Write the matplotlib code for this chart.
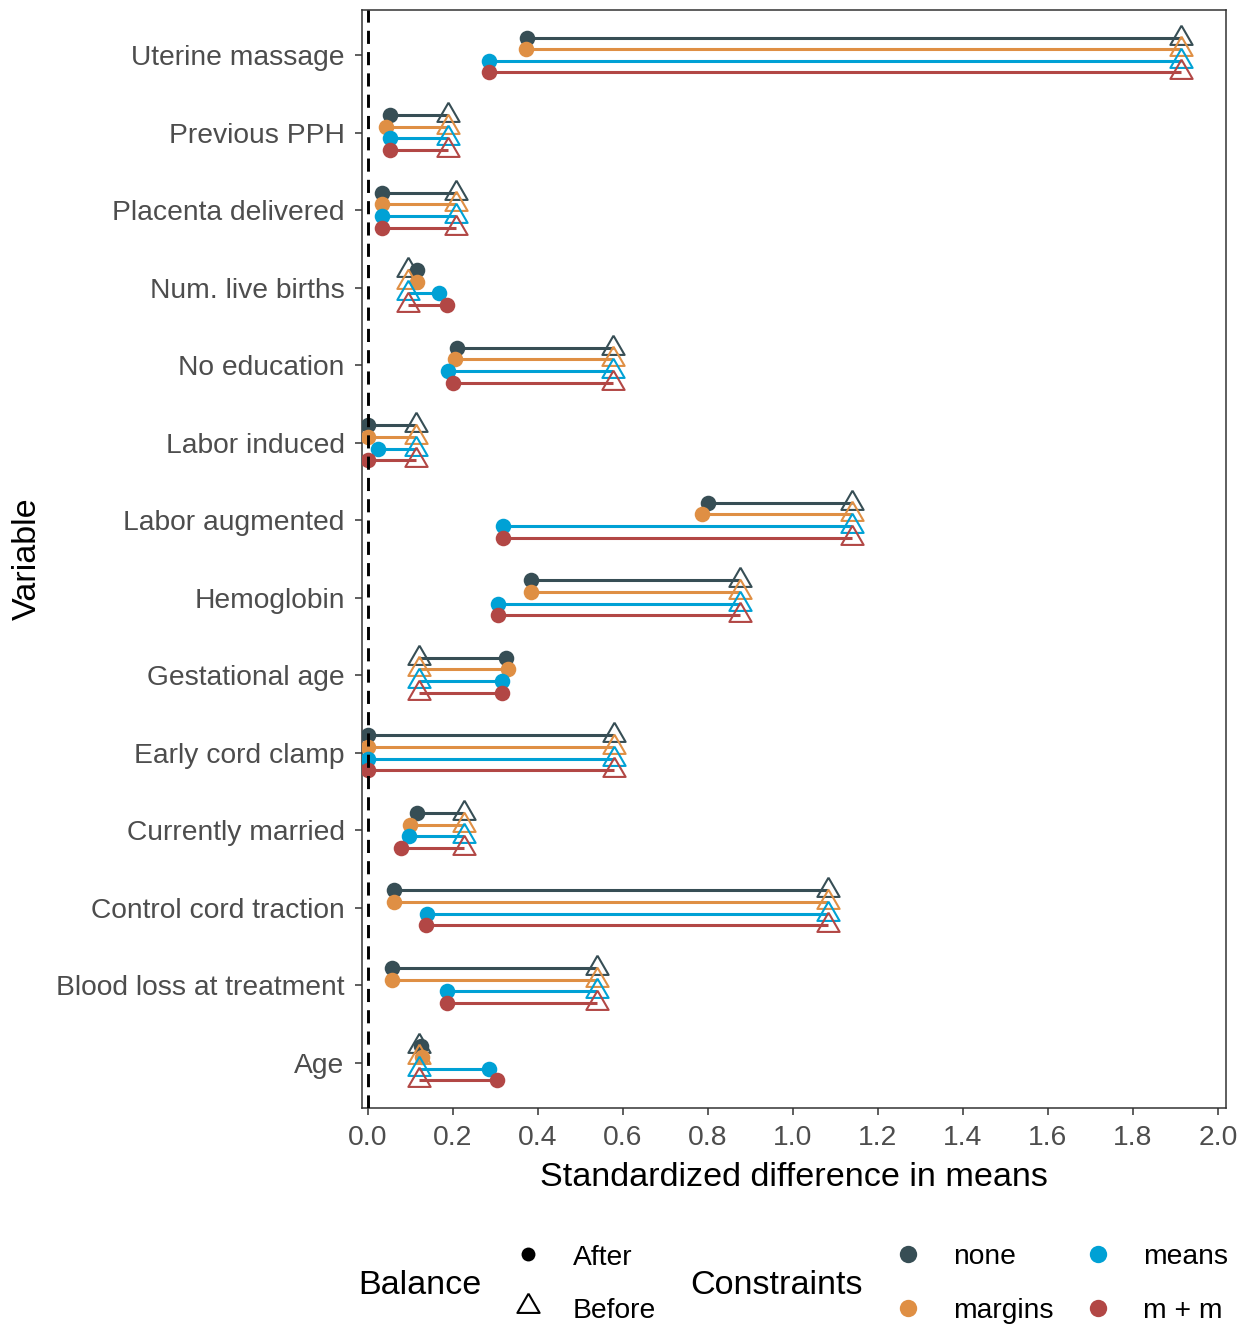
import numpy as np
import matplotlib
matplotlib.use("Agg")
import matplotlib.pyplot as plt
from matplotlib.lines import Line2D

plt.rcParams['font.family'] = ['Liberation Sans', 'DejaVu Sans']

# Covariates, listed bottom to top on the y axis
variables = ["Age", "Blood loss at treatment", "Control cord traction",
             "Currently married", "Early cord clamp", "Gestational age",
             "Hemoglobin", "Labor augmented", "Labor induced", "No education",
             "Num. live births", "Placenta delivered", "Previous PPH",
             "Uterine massage"]

# Standardized difference in means before balancing
before = [0.121, 0.539, 1.082, 0.226, 0.580, 0.119, 0.875, 1.140, 0.114,
          0.576, 0.095, 0.207, 0.188, 1.913]

# Standardized difference in means after balancing, by constraint set
after_none = [0.126, 0.056, 0.062, 0.115, 0.001, 0.325, 0.384, 0.799, 0.001,
              0.209, 0.116, 0.033, 0.052, 0.374]
after_margins = [0.128, 0.057, 0.062, 0.100, 0.000, 0.329, 0.384, 0.787, 0.000,
                 0.206, 0.116, 0.033, 0.042, 0.372]
after_means = [0.285, 0.185, 0.138, 0.096, 0.000, 0.316, 0.307, 0.317, 0.024,
               0.188, 0.167, 0.033, 0.052, 0.285]
after_mm = [0.303, 0.187, 0.137, 0.077, 0.001, 0.316, 0.307, 0.317, 0.000,
            0.199, 0.185, 0.033, 0.052, 0.285]

constraints = ["none", "margins", "means", "m + m"]
after_sets = [after_none, after_margins, after_means, after_mm]
colors = ["#374E55", "#DF8F44", "#00A1D5", "#B24745"]
dodge = [0.225, 0.075, -0.075, -0.225]

x_ticks = [0.0, 0.2, 0.4, 0.6, 0.8, 1.0, 1.2, 1.4, 1.6, 1.8, 2.0]

W, H = 1247, 1326
fig = plt.figure(figsize=(W / 100, H / 100), dpi=100)
ax = fig.add_axes([362 / W, 1 - 1108 / H, (1226 - 362) / W, (1108 - 10) / H])

# equilateral open triangle marker, centred on its centroid
tri = [(0, 1), (-0.866, -0.5), (0.866, -0.5), (0, 1)]
TRI_MS = 18.5
DOT_MS = 11.2

base = np.arange(1, len(variables) + 1)
for vals, col, off in zip(after_sets, colors, dodge):
    ax.hlines(base + off, vals, before, color=col, lw=2.2, zorder=2)
for vals, col, off in zip(after_sets, colors, dodge):
    ax.plot(vals, base + off, ls='none', marker='o', ms=DOT_MS, mew=0,
            color=col, zorder=3)
    ax.plot(before, base + off, ls='none', marker=tri, ms=TRI_MS, mew=1.5,
            mfc='none', mec=col, zorder=3)

ax.axvline(0, color='black', lw=2.1, ls=(0, (4.5, 2.8)), zorder=5)

ax.set_xlim(-0.014, 2.019)
ax.set_ylim(0.42, len(variables) + 0.58)
ax.set_xticks(x_ticks)
ax.set_xticklabels([f"{t:.1f}" for t in x_ticks])
ax.set_yticks(base)
ax.set_yticklabels(variables)
ax.tick_params(axis='both', length=5, width=1.1, color='#333333',
               labelcolor='#4D4D4D', labelsize=20.3)
ax.tick_params(axis='y', pad=7.5)
ax.tick_params(axis='x', pad=7)
for s in ax.spines.values():
    s.set_color('#333333')
    s.set_linewidth(1.1)

ax.set_xlabel("Standardized difference in means", fontsize=24.6, labelpad=8)
fig.text(27 / W, 1 - 559 / H, "Variable", rotation=90, fontsize=24.6,
         ha='center', va='center')


def fx(px):
    return px / W


def fy(py):
    return 1 - py / H


# Legend: Balance
fig.text(fx(358), fy(1285), "Balance", fontsize=24.6, ha='left', va='center')
fig.add_artist(Line2D([fx(528)], [fy(1254)], transform=fig.transFigure,
                      marker='o', ms=10.0, mew=0, color='black', ls='none'))
fig.add_artist(Line2D([fx(528)], [fy(1306)], transform=fig.transFigure,
                      marker=tri, ms=TRI_MS, mew=1.5, mfc='none', mec='black',
                      ls='none'))
fig.text(fx(573), fy(1258), "After", fontsize=20.3, ha='left', va='center')
fig.text(fx(573), fy(1311), "Before", fontsize=20.3, ha='left', va='center')

# Legend: Constraints
fig.text(fx(690), fy(1285), "Constraints", fontsize=24.6, ha='left', va='center')
key_pos = [(908, 1254), (908, 1308), (1098, 1254), (1098, 1308)]
for name, col, (kx, ky) in zip(constraints, colors, key_pos):
    fig.add_artist(Line2D([fx(kx)], [fy(ky)], transform=fig.transFigure,
                          marker='o', ms=12.5, mew=0, color=col, ls='none'))
    fig.text(fx(kx + 45), fy(ky + 3), name, fontsize=20.3, ha='left',
             va='center')

fig.savefig("out.png", dpi=100, facecolor='white')
